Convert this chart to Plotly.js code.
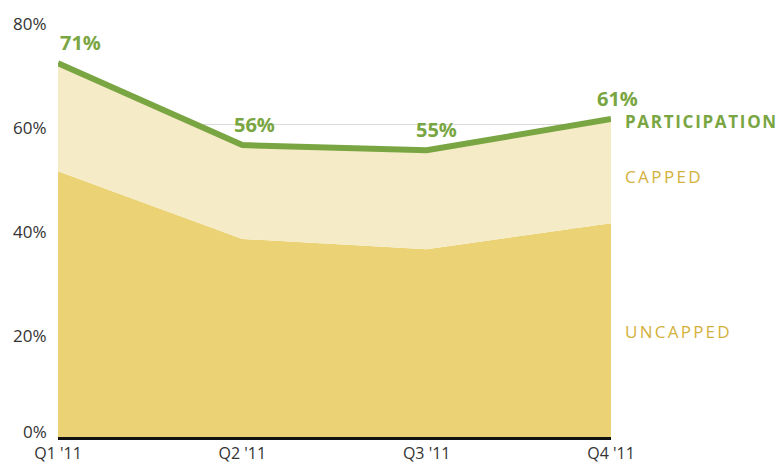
<!DOCTYPE html>
<html>
<head>
<meta charset="utf-8">
<script src="https://cdn.plot.ly/plotly-3.0.1.min.js"></script>
<style>
html,body{margin:0;padding:0;background:#fff;}
#chart{width:777px;height:464px;}
</style>
</head>
<body>
<div id="chart"></div>
<script>
const quarters = ["Q1 '11", "Q2 '11", "Q3 '11", "Q4 '11"];
const uncapped = [51, 38, 36, 41];
const participation = [71.7, 56, 55, 61];
const participationLabels = ["71%", "56%", "55%", "61%"];
const seriesNames = ["PARTICIPATION", "CAPPED", "UNCAPPED"];
const yTicks = [0, 20, 40, 60, 80];
const yTickLabels = ["0%", "20%", "40%", "60%", "80%"];

const green = '#79a642';
const gold = '#d3b13c';

const traces = [
  {
    x: quarters, y: uncapped, type: 'scatter', mode: 'lines',
    fill: 'tozeroy', fillcolor: '#ebd275',
    line: {width: 0, color: '#ebd275'}, hoverinfo: 'skip'
  },
  {
    x: quarters, y: participation, type: 'scatter', mode: 'lines',
    fill: 'tonexty', fillcolor: '#f5ebc6',
    line: {width: 6, color: green}, cliponaxis: false, hoverinfo: 'skip'
  }
];

const labelShifts = [22, 12, 10, 6];
const annotations = quarters.map((q, i) => ({
  x: q, y: participation[i], xref: 'x', yref: 'y',
  text: '<b>' + participationLabels[i] + '</b>', showarrow: false,
  xanchor: 'center', yanchor: 'bottom', xshift: labelShifts[i], yshift: 5,
  font: {family: 'Open Sans, sans-serif', size: 20, color: green}
}));

// y-axis tick labels (0% sits just above the baseline as in the original)
yTicks.forEach((v, i) => {
  annotations.push({
    x: 0, y: v, xref: 'paper', yref: 'y', xanchor: 'right', yanchor: 'middle',
    xshift: -9, yshift: v === 0 ? 6 : -3,
    text: yTickLabels[i], showarrow: false,
    font: {family: 'Open Sans, sans-serif', size: 17, color: '#333'}
  });
});

const sideY = [60.5, 49.9, 20.3];
const sideColors = [green, gold, gold];
seriesNames.forEach((n, i) => {
  annotations.push({
    x: 1, y: sideY[i], xref: 'paper', yref: 'y', xanchor: 'left', yanchor: 'middle', xshift: 12,
    text: i === 0 ? '<b>' + n + '</b>' : n, showarrow: false,
    font: {family: 'Open Sans, sans-serif', size: 17, color: sideColors[i]}
  });
});

const layout = {
  width: 777, height: 464,
  margin: {l: 58, r: 166, t: 20, b: 27, pad: 0},
  paper_bgcolor: '#fff', plot_bgcolor: '#fff',
  showlegend: false,
  font: {family: 'Open Sans, sans-serif', size: 17, color: '#333'},
  xaxis: {
    type: 'category', range: [0, 3], showgrid: false, zeroline: false,
    showline: true, linecolor: '#111', linewidth: 3, layer: 'above traces',
    ticks: '', ticklabelstandoff: 0, tickfont: {size: 16, color: '#333'}, fixedrange: true
  },
  yaxis: {
    range: [0, 80], tickvals: yTicks, showticklabels: false,
    showgrid: true, gridcolor: '#d9d9d9', gridwidth: 1, zeroline: false,
    showline: false, ticks: '', fixedrange: true
  },
  annotations: annotations
};

Plotly.newPlot('chart', traces, layout, {displayModeBar: false, staticPlot: true}).then(() => {
  const spacing = [1.7, 2.4, 2.25];
  const texts = document.querySelectorAll('#chart .annotation .annotation-text');
  const n = texts.length;
  for (let i = 0; i < 3; i++) {
    const t = texts[n - 3 + i];
    if (!t) continue;
    const before = t.getBBox();
    t.style.letterSpacing = spacing[i] + 'px';
    const after = t.getBBox();
    const dx = before.x - after.x;
    const x0 = parseFloat(t.getAttribute('x') || '0');
    t.setAttribute('x', x0 + dx);
    t.querySelectorAll('tspan[x]').forEach(ts => {
      ts.setAttribute('x', parseFloat(ts.getAttribute('x')) + dx);
    });
  }
});
</script>
</body>
</html>
